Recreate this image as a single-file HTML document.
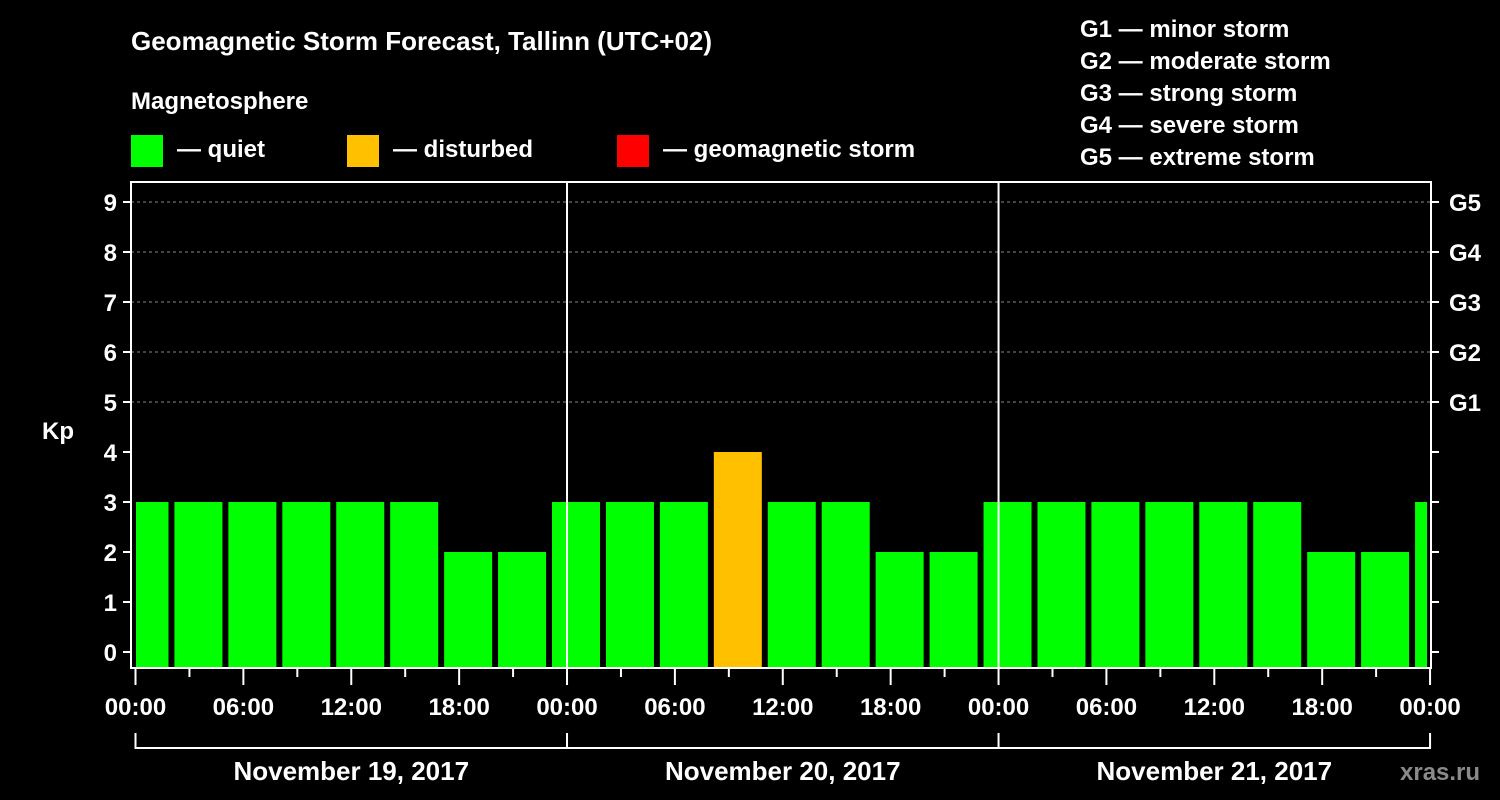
<!DOCTYPE html>
<html><head><meta charset="utf-8"><style>
html,body{margin:0;padding:0;background:#000;width:1500px;height:800px;overflow:hidden}
svg text{font-family:"Liberation Sans",sans-serif;font-weight:bold;fill:#fff}
</style></head><body>
<svg id="chart" width="1500" height="800" xmlns="http://www.w3.org/2000/svg">
<text x="131" y="50" font-size="26">Geomagnetic Storm Forecast, Tallinn (UTC+02)</text>
<text x="131" y="109" font-size="24">Magnetosphere</text>
<g>
<rect x="131" y="135" width="32" height="32" fill="#00ff00"/>
<text x="177" y="157" font-size="24">— quiet</text>
<rect x="347" y="135" width="32" height="32" fill="#ffc000"/>
<text x="393" y="157" font-size="24">— disturbed</text>
<rect x="617" y="135" width="32" height="32" fill="#ff0000"/>
<text x="663" y="157" font-size="24">— geomagnetic storm</text>
</g>
<g font-size="24">
<text x="1080" y="37">G1 — minor storm</text>
<text x="1080" y="69">G2 — moderate storm</text>
<text x="1080" y="101">G3 — strong storm</text>
<text x="1080" y="133">G4 — severe storm</text>
<text x="1080" y="165">G5 — extreme storm</text>
</g>
<text x="42" y="439" font-size="24">Kp</text>
<text x="1400" y="780" font-size="24" fill="#888" style="fill:#8a8a8a">xras.ru</text>
<g id="grid"></g><g id="bars"></g><g id="axes"></g>
</svg>
<script>
const barStartHours=[-1,2,5,8,11,14,17,20,23,26,29,32,35,38,41,44,47,50,53,56,59,62,65,68,71];
const kpValues=[3,3,3,3,3,3,2,2,3,3,3,4,3,3,2,2,3,3,3,3,3,3,2,2,3];
const yTicks=[0,1,2,3,4,5,6,7,8,9];
const gLabels=["G1","G2","G3","G4","G5"];
const gLevels=[5,6,7,8,9];
const xTickLabels=["00:00","06:00","12:00","18:00","00:00","06:00","12:00","18:00","00:00","06:00","12:00","18:00","00:00"];
const dayLabels=["November 19, 2017","November 20, 2017","November 21, 2017"];
const NS="http://www.w3.org/2000/svg";
const X0=135.5,PXH=17.98,Y0=652,PXK=50,L=131,R=1431,T=182,B=668;
const xs=h=>X0+h*PXH, ys=k=>Y0-k*PXK;
function mk(p,t,a){const e=document.createElementNS(NS,t);for(const k in a)e.setAttribute(k,a[k]);p.appendChild(e);return e;}
const grid=document.getElementById('grid'),bars=document.getElementById('bars'),axes=document.getElementById('axes');
gLevels.forEach((g,i)=>{
 const l=mk(grid,'line',{x1:L,x2:R,y1:ys(g),y2:ys(g),stroke:'#888','stroke-dasharray':'3,3','stroke-width':1});
 
 
 const t=mk(axes,'text',{x:1449,y:ys(g)+9,'font-size':24});t.textContent=gLabels[i];
 
 
});
barStartHours.forEach((h,i)=>{
 let x1=xs(h+1.5)-24,x2=xs(h+1.5)+24;
 x1=Math.max(x1,xs(0)+0.5);x2=Math.min(x2,xs(72)-3);
 const v=kpValues[i];
 const c=v>=5?'#ff0000':v>=4?'#ffc000':'#00ff00';
 const r=mk(bars,'rect',{x:x1,y:ys(v),width:x2-x1,height:B-ys(v),fill:c});
 
 
});
[1,2].forEach(d=>{const l=mk(axes,'line',{x1:xs(24*d),x2:xs(24*d),y1:T,y2:B,stroke:'#fff','stroke-width':2});
 
 });
const frame=mk(axes,'rect',{x:L,y:T,width:R-L,height:B-T,fill:'none',stroke:'#fff','stroke-width':2});


yTicks.forEach(k=>{
 mk(axes,'line',{x1:L-8,x2:L,y1:ys(k),y2:ys(k),stroke:'#fff','stroke-width':2});
 mk(axes,'line',{x1:R,x2:R+8,y1:ys(k),y2:ys(k),stroke:'#fff','stroke-width':2});
 const t=mk(axes,'text',{x:L-14,y:ys(k)+9,'font-size':24,'text-anchor':'end'});t.textContent=k;
 
 
});
for(let h=0;h<=72;h+=3){mk(axes,'line',{x1:xs(h),x2:xs(h),y1:B,y2:B+(h%6?9:17),stroke:'#fff','stroke-width':2});}
xTickLabels.forEach((s,i)=>{const t=mk(axes,'text',{x:xs(i*6),y:715,'font-size':24,'text-anchor':'middle'});t.textContent=s;
 
 });
mk(axes,'line',{x1:xs(0),x2:xs(72),y1:748,y2:748,stroke:'#fff','stroke-width':2});
for(let d=0;d<=3;d++)mk(axes,'line',{x1:xs(24*d),x2:xs(24*d),y1:733,y2:749,stroke:'#fff','stroke-width':2});
dayLabels.forEach((s,i)=>{const t=mk(axes,'text',{x:xs(24*i+12),y:780,'font-size':26,'text-anchor':'middle'});t.textContent=s;
 
 });
</script>
</body></html>
